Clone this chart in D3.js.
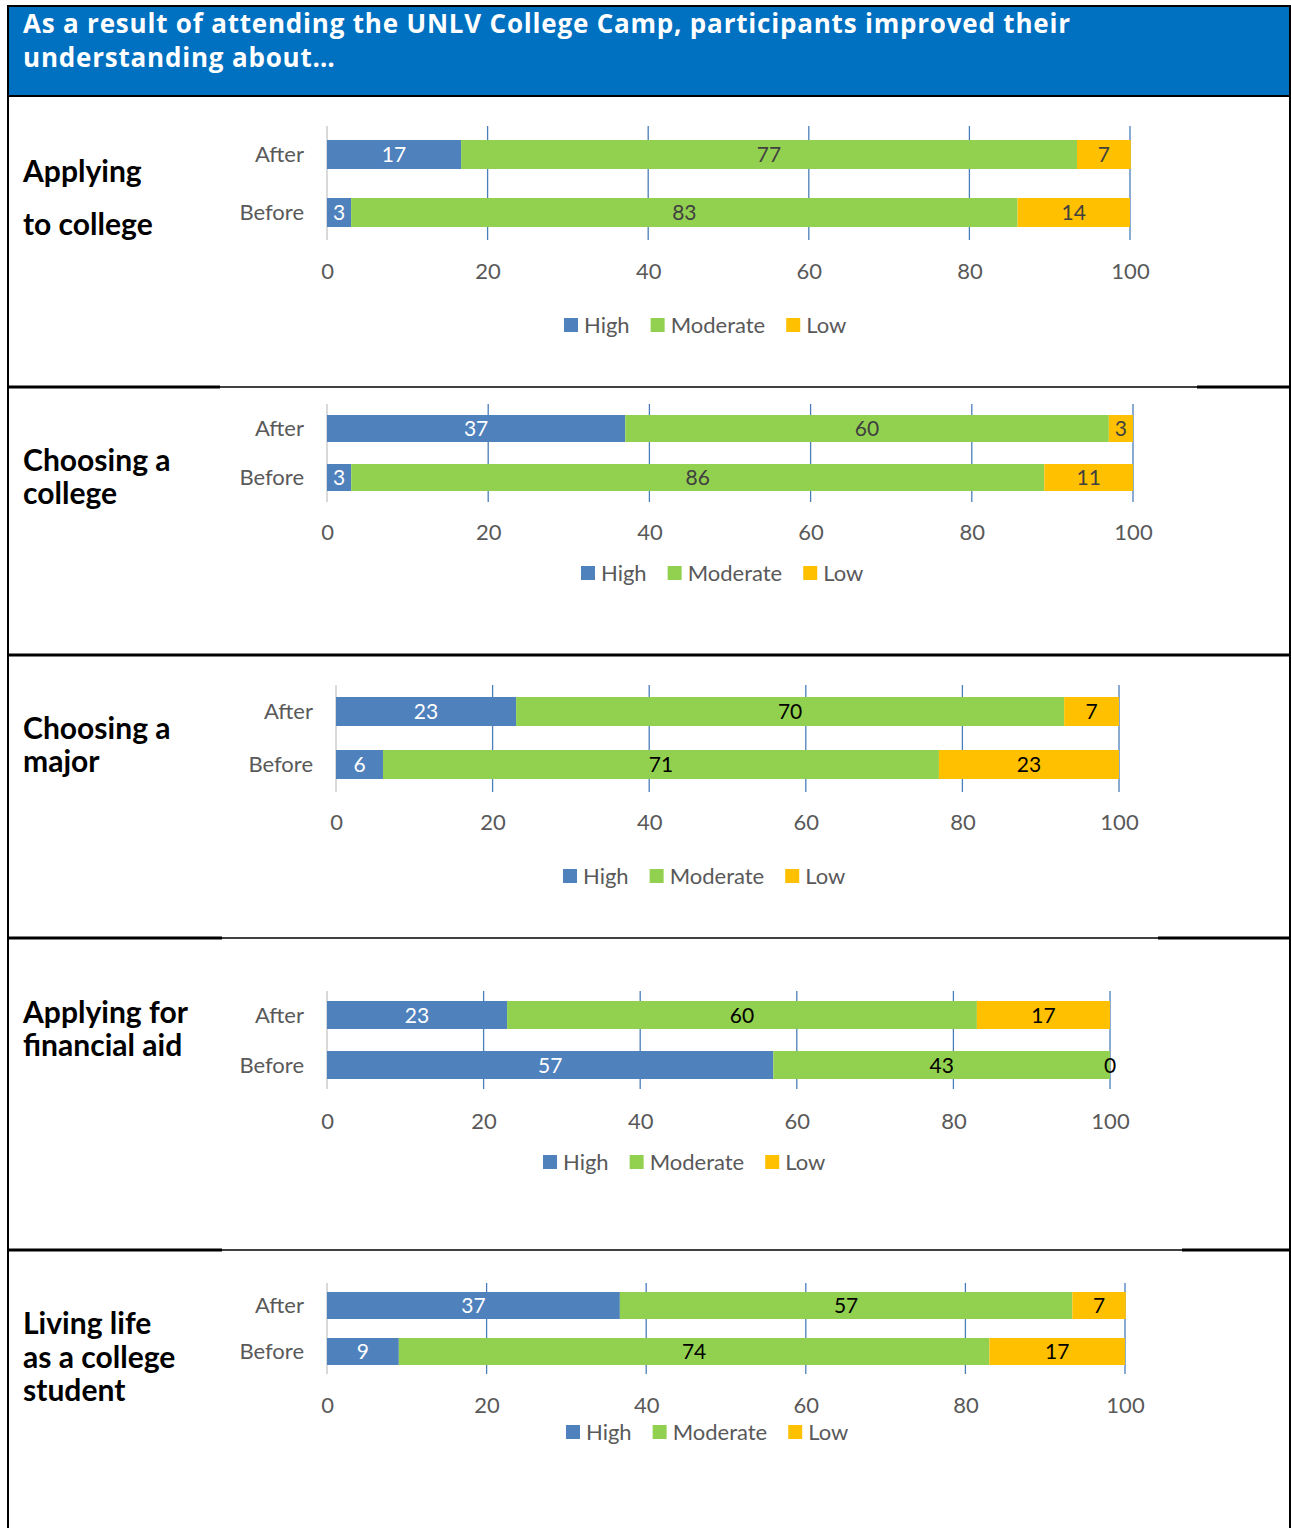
<!DOCTYPE html>
<html><head><meta charset="utf-8">
<script src="https://cdn.jsdelivr.net/npm/d3@7"></script>
<style>body{margin:0;background:#fff}svg{display:block}</style>
</head><body>
<script>
// ---------- data ----------
const headerLines = ["As a result of attending the UNLV College Camp, participants improved their", "understanding about…"];
const categories = ["After", "Before"];
const seriesNames = ["High", "Moderate", "Low"];
const topics = [["Applying", "to college"], ["Choosing a", "college"], ["Choosing a", "major"], ["Applying for", "financial aid"], ["Living life", "as a college", "student"]];
// percentages (labels shown rounded)
const highValues = [[16.7, 3], [37, 3], [23, 6], [23, 57], [36.7, 9]];
const moderateValues = [[76.7, 83], [60, 86], [70, 71], [60, 43], [56.7, 74]];
const lowValues = [[6.7, 14], [3, 11], [7, 23], [17, 0], [6.7, 17]];
const tickValues = [0, 20, 40, 60, 80, 100];

// ---------- layout / style ----------
const colors = {High: "#4F81BD", Moderate: "#92D050", Low: "#FFC000"};
const layout = [
  {x0: 327, x1: 1130, gTop: 126, gBot: 240, bTop: 140, bBot: 227, bh: 29, tickB: 279, legY: 325, legX: 564, titleB: [182, 235], lab: "#404040"},
  {x0: 327, x1: 1133, gTop: 404, gBot: 502, bTop: 415, bBot: 491, bh: 27, tickB: 540, legY: 573, legX: 581, titleB: [471, 504], lab: "#404040"},
  {x0: 336, x1: 1119, gTop: 685, gBot: 792, bTop: 697, bBot: 779, bh: 29, tickB: 830, legY: 876, legX: 563, titleB: [739, 772], lab: "#000"},
  {x0: 327, x1: 1110, gTop: 991, gBot: 1089, bTop: 1001, bBot: 1079, bh: 28, tickB: 1129, legY: 1162, legX: 543, titleB: [1023, 1056], lab: "#000"},
  {x0: 327, x1: 1125, gTop: 1283, gBot: 1374, bTop: 1292, bBot: 1365, bh: 27, tickB: 1413, legY: 1432, legX: 566, titleB: [1334, 1368, 1401], lab: "#000"}
];
const FONT = "Lato, 'Open Sans', sans-serif";
const HFONT = "'Open Sans', Lato, sans-serif";
const W = 1291, H = 1528;
const fmt = d3.format(".0f");

const svg = d3.select("body").append("svg").attr("width", W).attr("height", H);

// header
svg.append("rect").attr("x", 8).attr("y", 6).attr("width", 1282).attr("height", 90).attr("fill", "#0070C0");
const hLines = svg.append("g").selectAll("text").data(headerLines).join("text")
  .attr("x", 23).attr("y", (d, i) => 33 + i * 34)
  .attr("fill", "#fff").attr("font-family", HFONT).attr("font-weight", 700).attr("font-size", 26)
  .text(d => d);
{
  const n0 = hLines.nodes()[0];
  const w = n0.getComputedTextLength();
  const ls = (1047 - w) / (headerLines[0].length - 1);
  hLines.attr("letter-spacing", ls);
}

// frame lines
const frame = svg.append("g").attr("stroke", "#000");
frame.append("line").attr("x1", 7).attr("x2", 1291).attr("y1", 6).attr("y2", 6).attr("stroke-width", 2);
frame.append("line").attr("x1", 8).attr("x2", 8).attr("y1", 5).attr("y2", H).attr("stroke-width", 2);
frame.append("line").attr("x1", 1290).attr("x2", 1290).attr("y1", 5).attr("y2", H).attr("stroke-width", 2);
frame.append("line").attr("x1", 7).attr("x2", 1291).attr("y1", 96).attr("y2", 96).attr("stroke-width", 2);
const seps = [
  {y: 387, l: 220, r: 1197},
  {y: 655, l: 1291, r: 1291},
  {y: 938, l: 222, r: 1158},
  {y: 1250, l: 222, r: 1182}
];
seps.forEach(s => {
  frame.append("line").attr("x1", 7).attr("x2", 1291).attr("y1", s.y).attr("y2", s.y).attr("stroke-width", 1.3);
  frame.append("line").attr("x1", 7).attr("x2", s.l).attr("y1", s.y).attr("y2", s.y).attr("stroke-width", 3);
  if (s.r < 1291) frame.append("line").attr("x1", s.r).attr("x2", 1291).attr("y1", s.y).attr("y2", s.y).attr("stroke-width", 3);
});

// title font size (fit "Applying for" to 165px)
let titleFs = 30;
{
  const t = svg.append("text").attr("font-family", FONT).attr("font-weight", 700).attr("font-size", 30).text("Applying for");
  titleFs = 30 * 165 / t.node().getComputedTextLength();
  t.remove();
}

topics.forEach((lines, p) => {
  const L = layout[p];
  const g = svg.append("g");
  const rows = categories.map((c, i) => ({cat: c, High: highValues[p][i], Moderate: moderateValues[p][i], Low: lowValues[p][i]}));
  const stacked = d3.stack().keys(seriesNames)(rows);

  const x = d3.scaleLinear().domain([0, 100]).range([L.x0, L.x1]);
  const yPos = d3.scalePoint().domain(categories).range([L.bTop, L.bBot - L.bh]);

  // title
  g.selectAll("text.title").data(lines).join("text").attr("class", "title")
    .attr("x", 23).attr("y", (d, i) => L.titleB[i])
    .attr("font-family", FONT).attr("font-weight", 700).attr("font-size", titleFs).attr("fill", "#000")
    .text(d => d);

  // gridlines
  g.selectAll("line.grid").data(tickValues.filter(v => v > 0)).join("line").attr("class", "grid")
    .attr("x1", d => x(d)).attr("x2", d => x(d)).attr("y1", L.gTop).attr("y2", L.gBot)
    .attr("stroke", "#4A7EBB").attr("stroke-width", 1.3);
  g.append("line").attr("x1", x(0)).attr("x2", x(0)).attr("y1", L.gTop).attr("y2", L.gBot)
    .attr("stroke", "#D9D9D9").attr("stroke-width", 2);

  // bars
  stacked.forEach(s => {
    g.selectAll(null).data(s).join("rect")
      .attr("x", d => x(d[0])).attr("width", d => x(d[1]) - x(d[0]))
      .attr("y", d => yPos(d.data.cat)).attr("height", L.bh)
      .attr("fill", colors[s.key]);
  });
  stacked.forEach(s => {
    g.selectAll(null).data(s).join("text")
      .attr("x", d => (x(d[0]) + x(d[1])) / 2)
      .attr("y", d => yPos(d.data.cat) + L.bh / 2)
      .attr("dy", "0.36em").attr("text-anchor", "middle")
      .attr("font-family", FONT).attr("font-size", 21)
      .attr("fill", s.key === "High" ? "#fff" : L.lab)
      .text(d => fmt(d.data[s.key]));
  });

  // category axis
  g.selectAll("text.cat").data(categories).join("text").attr("class", "cat")
    .attr("x", L.x0 - 23).attr("y", d => yPos(d) + L.bh / 2).attr("dy", "0.36em")
    .attr("text-anchor", "end").attr("font-family", FONT).attr("font-size", 22).attr("fill", "#595959")
    .text(d => d);

  // value axis
  const ax = g.append("g").attr("transform", `translate(0,${L.tickB - 19})`)
    .call(d3.axisBottom(x).tickValues(tickValues).tickSize(0).tickPadding(3).tickFormat(d3.format("d")));
  ax.select(".domain").remove();
  ax.selectAll("text").attr("font-family", FONT).attr("font-size", 22).attr("fill", "#595959");

  // legend
  const leg = g.append("g");
  let cx = L.legX;
  seriesNames.forEach(n => {
    leg.append("rect").attr("x", cx).attr("y", L.legY - 7).attr("width", 14).attr("height", 14).attr("fill", colors[n]);
    const t = leg.append("text").attr("x", cx + 20).attr("y", L.legY).attr("dy", "0.36em")
      .attr("font-family", FONT).attr("font-size", 22).attr("fill", "#595959").text(n);
    cx += 20 + t.node().getComputedTextLength() + 21;
  });
});
</script>
</body></html>
